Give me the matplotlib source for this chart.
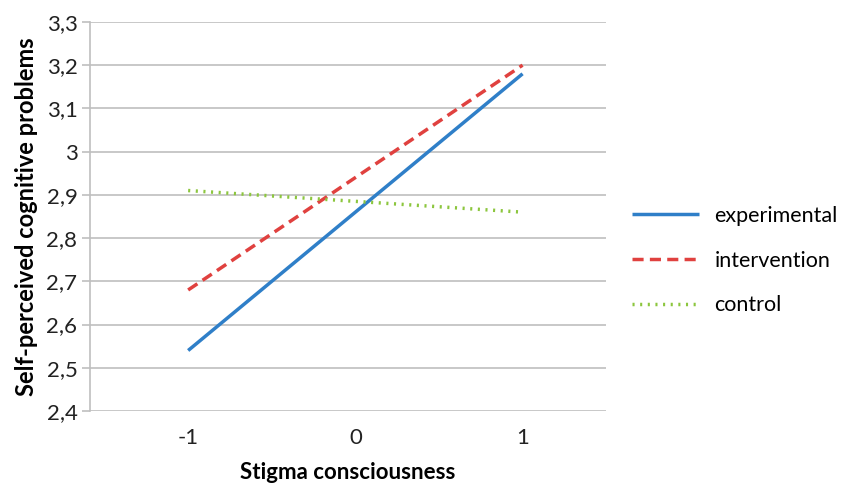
import matplotlib.pyplot as plt
from matplotlib.ticker import FuncFormatter, MultipleLocator

# data
stigma = [-1, 0, 1]
experimental = [2.54, 2.86, 3.18]
intervention = [2.68, 2.94, 3.20]
control = [2.91, 2.885, 2.86]

plt.rcParams['font.family'] = ['Lato', 'DejaVu Sans']

fig = plt.figure(figsize=(8.49, 4.87), dpi=100)
ax = fig.add_axes([0.106, 0.156, 0.608, 0.799])

ax.plot(stigma, experimental, color='#2f7fc8', lw=2.5, solid_capstyle='butt',
        label='experimental')
ax.plot(stigma, intervention, color='#e0413f', lw=2.5, dashes=(3.2, 1.8),
        label='intervention')
ax.plot(stigma, control, color='#8cc63e', lw=2.5, dashes=(0.6, 1.6),
        dash_capstyle='butt', label='control')

ax.set_xlim(-1.587, 1.5)
ax.set_ylim(2.4, 3.3)
ax.yaxis.set_major_locator(MultipleLocator(0.1))
ax.yaxis.set_major_formatter(
    FuncFormatter(lambda v, p: ('%.1f' % v).rstrip('0').rstrip('.').replace('.', ',')))
ax.set_xticks(stigma)
ax.set_xticklabels(['-1', '0', '1'])

ax.grid(axis='y', color='#bfbfbf', lw=1.2)
ax.set_axisbelow(True)
for s in ['top', 'right', 'bottom']:
    ax.spines[s].set_visible(False)
ax.spines['left'].set_color('#bfbfbf')
ax.spines['left'].set_linewidth(1.2)
ax.tick_params(axis='y', length=6, width=1.2, color='#bfbfbf', labelsize=16,
               labelcolor='#222222', pad=3)
ax.tick_params(axis='x', length=0, labelsize=16, labelcolor='#222222', pad=12)

ax.set_xlabel('Stigma consciousness', fontsize=16, fontweight='bold', labelpad=10)
ax.set_ylabel('Self-perceived cognitive problems', fontsize=17, fontweight='bold',
              labelpad=6)

ax.legend(loc='center left', bbox_to_anchor=(0.744, 0.465), bbox_transform=fig.transFigure,
          frameon=False, fontsize=15.5, handlelength=3.15, handletextpad=0.7,
          labelspacing=1.15, borderpad=0, borderaxespad=0)

fig.savefig('out.png', dpi=100)
